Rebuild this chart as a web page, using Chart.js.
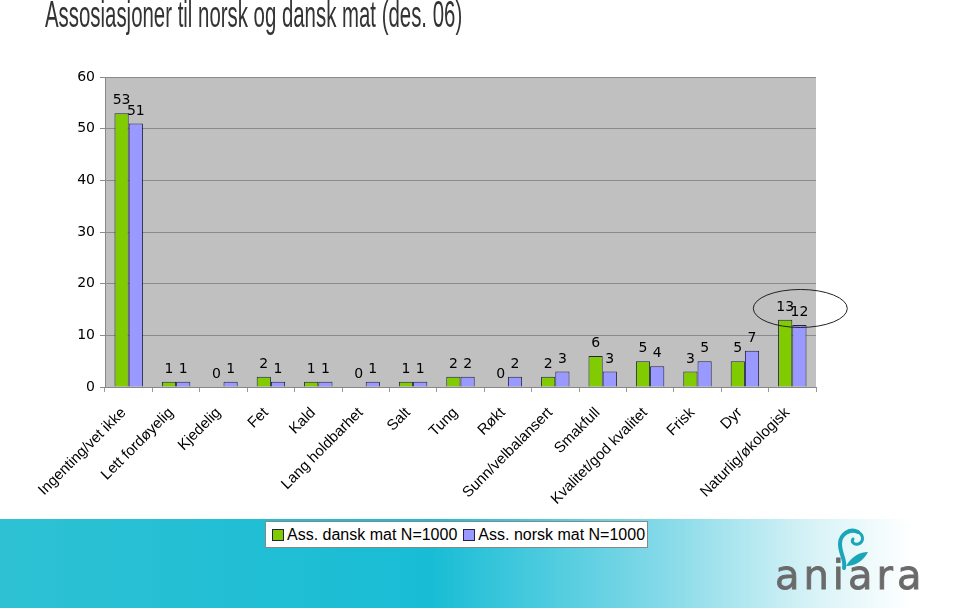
<!DOCTYPE html>
<html>
<head>
<meta charset="utf-8">
<script src="https://cdn.jsdelivr.net/npm/chart.js@4"></script>
<style>
  body { margin: 0; background: #fff; }
  #wrap { position: relative; width: 960px; height: 614px; overflow: hidden; font-family: "Liberation Sans", Arial, sans-serif; }
  #band { position: absolute; left: 0; top: 519px; width: 960px; height: 89px;
          background: linear-gradient(to right, #2ec1d3 0%, #18bdd5 45%, #7fd8e7 68%, #d9f3f7 85%, #ffffff 95%); }
  #chart { position: absolute; left: 0; top: 0; z-index: 1; }
  #title { position: absolute; left: 45px; top: -3px; z-index: 2; white-space: nowrap;
           font-family: "Liberation Sans Narrow", "Liberation Sans", Arial, sans-serif;
           font-size: 36px; line-height: 36px; color: #333; transform-origin: 0 0; }
  #legend { position: absolute; left: 265px; top: 521px; width: 381px; height: 25px; z-index: 2;
            background: #fff; border: 1px solid #888; font-size: 16px; line-height: 25px; white-space: nowrap; }
  #legend span.box { display: inline-block; width: 10px; height: 10px; border: 1px solid #222244; margin: 0 3px 0 6px; vertical-align: -1px; }
  #logo { position: absolute; left: 775px; top: 552px; z-index: 2; font-family: "DejaVu Sans", sans-serif;
          font-size: 40px; color: #6a6a6a; letter-spacing: 4px; -webkit-text-stroke: 0.8px #6a6a6a; }
  #mark { position: absolute; left: 832px; top: 526px; z-index: 2; }
</style>
</head>
<body>
<div id="wrap">
  <div id="band"></div>
  <canvas id="chart" width="960" height="614"></canvas>
  <div id="title">Assosiasjoner til norsk og dansk mat (des. 06)</div>
  <div id="legend"><span class="box" style="background:#80cc00"></span>Ass. dansk mat N=1000<span class="box" style="background:#9999ff"></span>Ass. norsk mat N=1000</div>
  <svg id="mark" width="40" height="46" viewBox="0 0 40 46">
    <path d="M26 6 C18 2 8 8 8 18 C8 28 14 34 12 42" fill="none" stroke="#1aa6b8" stroke-width="4" stroke-linecap="round"/>
    <path d="M26 6 C32 9 32 16 26 18 C22 19 19 16 21 13" fill="none" stroke="#1aa6b8" stroke-width="3" stroke-linecap="round"/>
    <path d="M14 40 C20 30 28 26 36 26 C32 34 24 40 14 40 Z" fill="#1aa6b8"/>
  </svg>
  <div id="logo">aniara</div>
</div>
<script>
// 資料
const categories = ['Ingenting/vet ikke', 'Lett fordøyelig', 'Kjedelig', 'Fet', 'Kald', 'Lang holdbarhet', 'Salt', 'Tung', 'Røkt', 'Sunn/velbalansert', 'Smakfull', 'Kvalitet/god kvalitet', 'Frisk', 'Dyr', 'Naturlig/økologisk'];
const danskMat = [53, 1, 0, 2, 1, 0, 1, 2, 0, 2, 6, 5, 3, 5, 13];
const norskMat = [51, 1, 1, 1, 1, 1, 1, 2, 2, 3, 3, 4, 5, 7, 12];
const yTicks = [0, 10, 20, 30, 40, 50, 60];

// 標題寬度壓縮
let title = document.getElementById("title");
title.style.transform = `scaleX(${417 / title.offsetWidth})`;

// 灰色繪圖區背景
const plotBackground = {
    id: 'plotBackground',
    beforeDraw(chart) {
        let { ctx, chartArea } = chart;
        ctx.save();
        ctx.fillStyle = '#c0c0c0';
        ctx.fillRect(chartArea.left, chartArea.top, chartArea.right - chartArea.left, chartArea.bottom - chartArea.top);
        ctx.restore();
    }
};

// 柱子上方的數值
const valueLabels = {
    id: 'valueLabels',
    afterDatasetsDraw(chart) {
        let ctx = chart.ctx;
        ctx.save();
        ctx.font = '14px "DejaVu Sans", sans-serif';
        ctx.fillStyle = '#000';
        ctx.textAlign = 'center';
        ctx.textBaseline = 'alphabetic';
        chart.data.datasets.forEach((ds, i) => {
            chart.getDatasetMeta(i).data.forEach((bar, j) => {
                ctx.fillText(String(ds.data[j]), bar.x, bar.y - 9);
            });
        });
        ctx.restore();
    }
};

// 最後一組的橢圓
const highlightEllipse = {
    id: 'highlightEllipse',
    afterDraw(chart) {
        let ctx = chart.ctx;
        let x = chart.scales.x.getPixelForValue(categories.length - 1) + 8;
        let y = chart.scales.y.getPixelForValue(15.2);
        ctx.save();
        ctx.strokeStyle = '#222';
        ctx.lineWidth = 1;
        ctx.beginPath();
        ctx.ellipse(x, y, 47, 19, 0, 0, Math.PI * 2);
        ctx.stroke();
        ctx.restore();
    }
};

let ctx = document.getElementById("chart");
new Chart(ctx, {
    type: 'bar',
    data: {
        labels: categories,
        datasets: [{
            label: 'Ass. dansk mat N=1000',
            data: danskMat,
            backgroundColor: '#80cc00',
            borderColor: '#222244',
            borderWidth: 1
        }, {
            label: 'Ass. norsk mat N=1000',
            data: norskMat,
            backgroundColor: '#9999ff',
            borderColor: '#222244',
            borderWidth: 1
        }]
    },
    options: {
        responsive: false,
        animation: false,
        events: [],
        layout: { padding: { top: 77, right: 144, bottom: 0, left: 0 } },
        datasets: { bar: { categoryPercentage: 0.6, barPercentage: 1 } },
        scales: {
            x: {
                afterFit(scale) { scale.height = 614 - 387; },
                grid: { offset: true, drawOnChartArea: false, color: '#999', tickLength: 5 },
                border: { color: '#888' },
                ticks: {
                    autoSkip: false, maxRotation: 45, minRotation: 45, color: '#000', padding: 12, labelOffset: -5,
                    font: { family: '"Liberation Sans", Arial, sans-serif', size: 15 }
                }
            },
            y: {
                afterFit(scale) { scale.width = 105; },
                min: 0,
                max: 60,
                afterBuildTicks(scale) { scale.ticks = yTicks.map(v => ({ value: v })); },
                grid: { color: '#8a8a8a', tickLength: 5 },
                border: { color: '#888' },
                ticks: {
                    color: '#000', padding: 5,
                    font: { family: '"DejaVu Sans", sans-serif', size: 14 }
                }
            }
        },
        plugins: {
            legend: { display: false },
            tooltip: { enabled: false }
        }
    },
    plugins: [plotBackground, valueLabels, highlightEllipse]
});
</script>
</body>
</html>
